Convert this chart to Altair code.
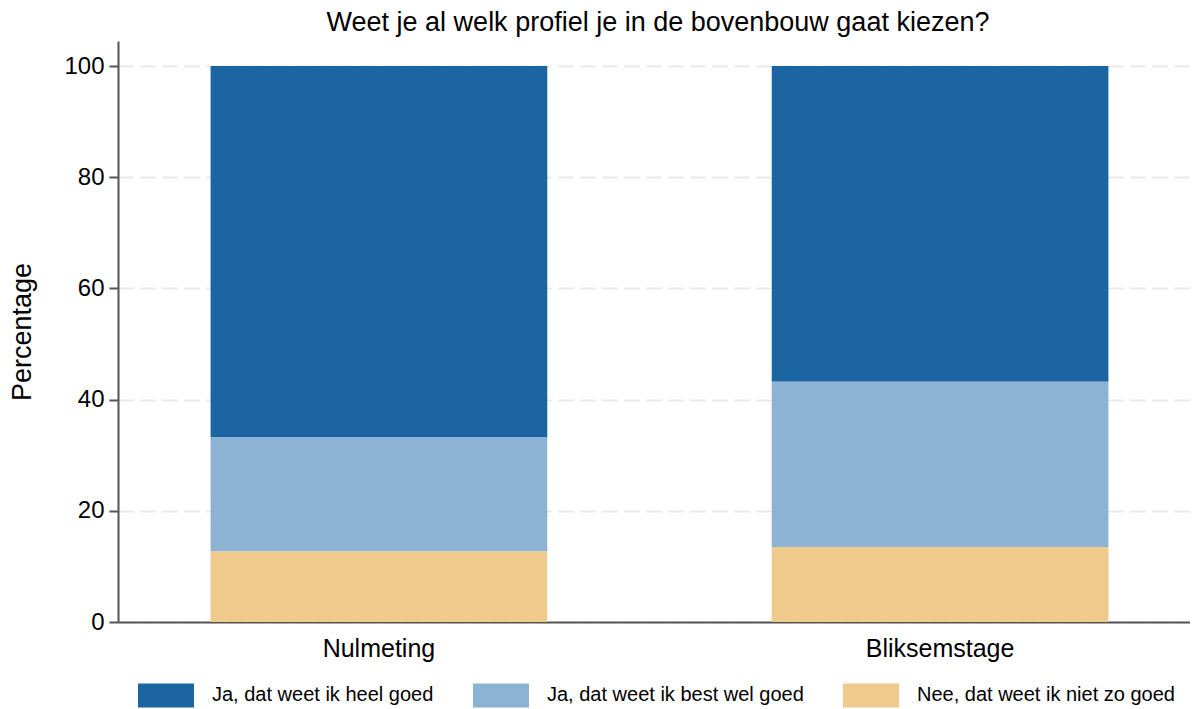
import altair as alt
import pandas as pd

groups = ["Nulmeting", "Bliksemstage"]
answers = [
    "Ja, dat weet ik heel goed",
    "Ja, dat weet ik best wel goed",
    "Nee, dat weet ik niet zo goed",
]
colors = ["#1a65a2", "#8cb2d4", "#f0ca8d"]
stack_rank = [3, 2, 1]  # bottom of stack = 1
values_nulmeting = [66.8, 20.5, 12.7]
values_bliksem = [56.8, 29.7, 13.5]
y_ticks = [0, 20, 40, 60, 80, 100]

rows = []
for g, vals in zip(groups, [values_nulmeting, values_bliksem]):
    for a, v, r in zip(answers, vals, stack_rank):
        rows.append({"groep": g, "antwoord": a, "pct": v, "rank": r})
df = pd.DataFrame(rows)

FONT = "Liberation Sans"
AX = "#555555"

chart = (
    alt.Chart(df)
    .mark_bar()
    .encode(
        x=alt.X(
            "groep:N",
            sort=groups,
            scale=alt.Scale(paddingInner=0.4, paddingOuter=0.165, range=[0, 1083]),
            axis=alt.Axis(
                title=None,
                labelAngle=0,
                labelFontSize=25,
                labelColor="#000000",
                ticks=False,
                tickSize=0,
                labelPadding=14,
                domainColor=AX,
                domainWidth=2,
            ),
        ),
        y=alt.Y(
            "pct:Q",
            stack="zero",
            scale=alt.Scale(domain=[0, 104.5], nice=False, zero=True),
            axis=alt.Axis(
                title="Percentage",
                values=y_ticks,
                labelFontSize=24,
                labelColor="#000000",
                labelPadding=5,
                tickSize=9,
                tickWidth=2,
                tickColor=AX,
                domainColor=AX,
                domainWidth=2,
                grid=True,
                gridColor="#eaeaea",
                gridWidth=2,
                gridDash=[15, 7],
                titleFontSize=27,
                titleFontWeight="normal",
                titleColor="#000000",
                titleAngle=270,
                titleX=-95.5,
                titleY=290.5,
                titleAlign="center",
                titleBaseline="middle",
            ),
        ),
        color=alt.Color(
            "antwoord:N",
            scale=alt.Scale(domain=answers, range=colors),
            legend=alt.Legend(
                title=None,
                orient="none",
                legendX=20,
                legendY=626,
                direction="horizontal",
                columns=3,
                columnPadding=39,
                symbolType="M-1,-0.4286H1V0.4286H-1Z",
                symbolSize=3136,
                symbolStrokeWidth=0,
                symbolOpacity=1,
                labelFontSize=20,
                labelColor="#000000",
                labelOffset=18,
                labelLimit=400,
                padding=0,
            ),
        ),
        order=alt.Order("rank:Q", sort="ascending"),
    )
    .properties(
        width=1072,
        height=581,
        padding={"left": 110, "top": 33, "right": 0, "bottom": 86},
        autosize=alt.AutoSizeParams(type="none"),
        title=alt.Title(
            "Weet je al welk profiel je in de bovenbouw gaat kiezen?",
            fontSize=27,
            fontWeight="normal",
            color="#000000",
            anchor="middle",
            offset=9,
            baseline="alphabetic",
            dx=4,
            dy=26,
        ),
    )
    .configure(font=FONT)
    .configure_view(stroke=None)
)

chart.save("out.html", embed_options={"renderer": "svg", "actions": False})
